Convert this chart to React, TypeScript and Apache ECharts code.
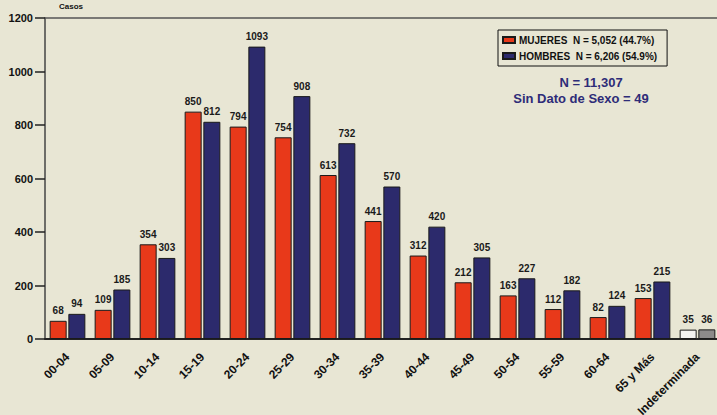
import React, { useEffect, useRef } from "react";
import * as echarts from "echarts";

const categories = ["00-04", "05-09", "10-14", "15-19", "20-24", "25-29", "30-34", "35-39", "40-44", "45-49", "50-54", "55-59", "60-64", "65 y Más", "Indeterminada"];
const mujeres = [68, 109, 354, 850, 794, 754, 613, 441, 312, 212, 163, 112, 82, 153, 35];
const hombres = [94, 185, 303, 812, 1093, 908, 732, 570, 420, 305, 227, 182, 124, 215, 36];
const seriesNames = ["MUJERES  N = 5,052 (44.7%)", "HOMBRES  N = 6,206 (54.9%)"];
const yTicks = [0, 200, 400, 600, 800, 1000, 1200];
const noteLines = ["N = 11,307", "Sin Dato de Sexo = 49"];

const RED = "#E8391A";
const NAVY = "#2C2A6C";
const BG = "#E8E6D4";
const FONT = "'Liberation Sans', Arial, sans-serif";

export default function App() {
  const ref = useRef<HTMLDivElement>(null);
  useEffect(() => {
    if (!ref.current) return;
    const chart = echarts.init(ref.current, null, { renderer: "svg" });
    const lastIdx = categories.length - 1;
    const mkData = (vals: number[], lastColor: string) =>
      vals.map((v, i) => (i === lastIdx ? { value: v, itemStyle: { color: lastColor } } : v));
    const labelCfg = {
      show: true,
      position: "top" as const,
      distance: 5,
      color: "#1a1a1a",
      fontWeight: "bold" as const,
      fontSize: 10,
      fontFamily: FONT,
    };
    chart.setOption({
      animation: false,
      backgroundColor: BG,
      textStyle: { fontFamily: FONT },
      grid: { left: 45, right: -3, top: 18, bottom: 76, containLabel: false, outerBoundsMode: "none" },
      legend: {
        left: 498,
        top: 30,
        orient: "vertical",
        itemWidth: 12,
        itemHeight: 6,
        itemGap: 6,
        padding: [5, 10, 5, 4],
        borderColor: "#111",
        borderWidth: 1,
        backgroundColor: BG,
        textStyle: { fontSize: 10, fontWeight: "bold", color: "#111", fontFamily: FONT, padding: [0, 0, 0, -1] },
        data: seriesNames.map((n) => ({ name: n, icon: "rect" })),
      },
      xAxis: [
        {
          type: "category",
          data: categories,
          axisLine: { lineStyle: { color: "#222", width: 2 } },
          axisTick: { alignWithLabel: true, length: 10, lineStyle: { color: "#222", width: 1.5 } },
          axisLabel: {
            rotate: 45,
            interval: 0,
            margin: 16,
            fontSize: 12,
            fontWeight: "bold",
            color: "#111",
            fontFamily: FONT,
          },
        },
        {
          type: "category",
          data: categories,
          position: "top",
          axisLine: { show: true, lineStyle: { color: "#555", width: 1.5 } },
          axisTick: { show: false },
          axisLabel: { show: false },
        },
      ],
      yAxis: {
        type: "value",
        min: yTicks[0],
        max: yTicks[yTicks.length - 1],
        interval: 200,
        name: "Casos",
        nameLocation: "end",
        nameGap: 8,
        nameTextStyle: { fontSize: 8, fontWeight: "bold", color: "#111", align: "left", padding: [0, 0, 0, 14], fontFamily: FONT },
        axisLine: { show: true, lineStyle: { color: "#444", width: 1.5 } },
        axisTick: { show: true, length: 10, lineStyle: { color: "#222", width: 1.5 } },
        axisLabel: {
          margin: 12,
          fontSize: 11,
          fontWeight: "bold",
          color: "#111",
          fontFamily: FONT,
          formatter: (v: number) => String(v),
        },
        splitLine: { show: false },
      },
      series: [
        {
          name: seriesNames[0],
          type: "bar",
          data: mkData(mujeres, "#F2F2F0"),
          barWidth: 17,
          barGap: "10%",
          itemStyle: { color: RED, borderColor: "#1a1a1a", borderWidth: 1 },
          label: labelCfg,
        },
        {
          name: seriesNames[1],
          type: "bar",
          data: mkData(hombres, "#8C8A8A"),
          barWidth: 17,
          itemStyle: { color: NAVY, borderColor: "#1a1a1a", borderWidth: 1 },
          label: labelCfg,
        },
      ],
      graphic: [
        {
          type: "text",
          x: 591,
          y: 82,
          style: { text: noteLines[0], fill: "#2E2C78", font: `bold 13px ${FONT}`, textAlign: "center", textVerticalAlign: "middle" },
        },
        {
          type: "text",
          x: 581,
          y: 98,
          style: { text: noteLines[1], fill: "#2E2C78", font: `bold 13px ${FONT}`, textAlign: "center", textVerticalAlign: "middle" },
        },
      ],
    });
    return () => chart.dispose();
  }, []);
  return <div ref={ref} style={{ position: "fixed", left: 0, top: 0, width: 717, height: 415 }} />;
}
